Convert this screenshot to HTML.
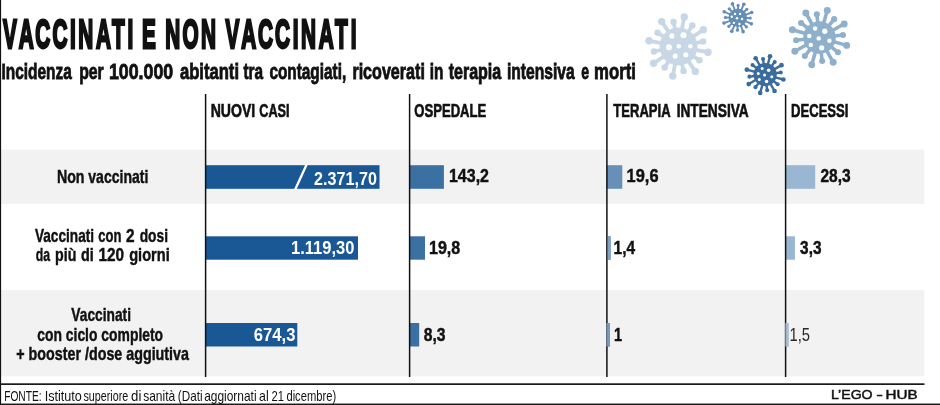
<!DOCTYPE html>
<html lang="it">
<head>
<meta charset="utf-8">
<title>Vaccinati e non vaccinati</title>
<style>
html,body{margin:0;padding:0;background:#fff;}
body{width:940px;height:405px;overflow:hidden;}
svg{display:block;will-change:transform;font-family:"Liberation Sans",sans-serif;}
</style>
</head>
<body>
<svg width="940" height="405" viewBox="0 0 940 405">
<rect x="0" y="0" width="940" height="405" fill="#ffffff"/>
<rect x="1" y="149.6" width="923.3" height="54.5" fill="#f2f2f2"/>
<rect x="1" y="290.0" width="923.3" height="86.3" fill="#f2f2f2"/>
<rect x="0" y="0" width="1.1" height="405" fill="#111"/>
<rect x="0" y="383.3" width="924.5" height="1.7" fill="#1a1a1a"/>
<rect x="0" y="403.55" width="940" height="1.45" fill="#1a1a1a"/>
<rect x="205.4" y="165.2" width="174.1" height="23.6" fill="#195895"/>
<rect x="409.4" y="165.2" width="34.5" height="23.6" fill="#3b70a3"/>
<rect x="606.7" y="165.2" width="15.6" height="23.6" fill="#6690b8"/>
<rect x="785.4" y="165.2" width="29.8" height="23.6" fill="#99b6d2"/>
<rect x="205.4" y="236.3" width="152.6" height="23.4" fill="#195895"/>
<rect x="409.4" y="236.3" width="15.6" height="23.4" fill="#3b70a3"/>
<rect x="606.7" y="236.3" width="3.9" height="23.4" fill="#6690b8"/>
<rect x="785.4" y="236.3" width="9.5" height="23.4" fill="#99b6d2"/>
<rect x="205.4" y="323.0" width="91.9" height="23.5" fill="#195895"/>
<rect x="409.4" y="323.0" width="9.8" height="23.5" fill="#3b70a3"/>
<rect x="606.7" y="323.0" width="3.3" height="23.5" fill="#6690b8"/>
<rect x="785.4" y="323.0" width="3.1" height="23.5" fill="#99b6d2"/>
<rect x="204.85" y="94" width="1.5" height="283" fill="#111"/>
<rect x="408.85" y="94" width="1.5" height="283" fill="#111"/>
<rect x="606.15" y="94" width="1.5" height="283" fill="#111"/>
<rect x="784.85" y="94" width="1.5" height="283" fill="#111"/>
<rect x="606.3" y="323.0" width="3.7" height="23.5" fill="#7b9bbb" opacity="0.9"/>
<rect x="607.5" y="236.3" width="3.2" height="23.4" fill="#80a1c1"/>
<rect x="785.3" y="323.0" width="3.2" height="23.5" fill="#a9bccf" opacity="0.9"/>
<line x1="295.2" y1="189.4" x2="306.5" y2="164.8" stroke="#fff" stroke-width="2.3"/>
<g fill="#c8d7e6" stroke="#c8d7e6" stroke-linecap="round">
<circle cx="678.50" cy="46.50" r="18.97" stroke="none"/>
<line x1="692.66" y1="36.95" x2="703.40" y2="29.71" stroke-width="3.80"/>
<circle cx="703.40" cy="29.71" r="3.70" stroke="none"/>
<line x1="687.93" y1="32.26" x2="692.34" y2="25.59" stroke-width="3.80"/>
<circle cx="692.34" cy="25.59" r="3.23" stroke="none"/>
<line x1="681.76" y1="29.74" x2="684.23" y2="17.02" stroke-width="3.80"/>
<circle cx="684.23" cy="17.02" r="3.70" stroke="none"/>
<line x1="675.10" y1="29.77" x2="673.50" y2="21.92" stroke-width="3.80"/>
<circle cx="673.50" cy="21.92" r="3.23" stroke="none"/>
<line x1="668.95" y1="32.34" x2="661.71" y2="21.60" stroke-width="3.80"/>
<circle cx="661.71" cy="21.60" r="3.70" stroke="none"/>
<line x1="664.26" y1="37.07" x2="657.59" y2="32.66" stroke-width="3.80"/>
<circle cx="657.59" cy="32.66" r="3.23" stroke="none"/>
<line x1="661.74" y1="43.24" x2="649.02" y2="40.77" stroke-width="3.80"/>
<circle cx="649.02" cy="40.77" r="3.70" stroke="none"/>
<line x1="661.77" y1="49.90" x2="653.92" y2="51.50" stroke-width="3.80"/>
<circle cx="653.92" cy="51.50" r="3.23" stroke="none"/>
<line x1="664.34" y1="56.05" x2="653.60" y2="63.29" stroke-width="3.80"/>
<circle cx="653.60" cy="63.29" r="3.70" stroke="none"/>
<line x1="669.07" y1="60.74" x2="664.66" y2="67.41" stroke-width="3.80"/>
<circle cx="664.66" cy="67.41" r="3.23" stroke="none"/>
<line x1="675.24" y1="63.26" x2="672.77" y2="75.98" stroke-width="3.80"/>
<circle cx="672.77" cy="75.98" r="3.70" stroke="none"/>
<line x1="681.90" y1="63.23" x2="683.50" y2="71.08" stroke-width="3.80"/>
<circle cx="683.50" cy="71.08" r="3.23" stroke="none"/>
<line x1="688.05" y1="60.66" x2="695.29" y2="71.40" stroke-width="3.80"/>
<circle cx="695.29" cy="71.40" r="3.70" stroke="none"/>
<line x1="692.74" y1="55.93" x2="699.41" y2="60.34" stroke-width="3.80"/>
<circle cx="699.41" cy="60.34" r="3.23" stroke="none"/>
<line x1="695.26" y1="49.76" x2="707.98" y2="52.23" stroke-width="3.80"/>
<circle cx="707.98" cy="52.23" r="3.70" stroke="none"/>
<line x1="695.23" y1="43.10" x2="703.08" y2="41.50" stroke-width="3.80"/>
<circle cx="703.08" cy="41.50" r="3.23" stroke="none"/>
</g>
<g fill="#ffffff">
<circle cx="671.90" cy="35.94" r="2.57"/>
<circle cx="683.45" cy="35.28" r="2.97"/>
<circle cx="668.93" cy="47.16" r="2.97"/>
<circle cx="678.83" cy="46.17" r="2.24"/>
<circle cx="690.38" cy="46.17" r="2.24"/>
<circle cx="675.20" cy="56.07" r="2.57"/>
<circle cx="685.76" cy="54.75" r="2.57"/>
</g>
<g fill="#648eb5" stroke="#648eb5" stroke-linecap="round">
<circle cx="737.80" cy="17.80" r="9.29" stroke="none"/>
<line x1="745.61" y1="14.80" x2="751.65" y2="12.48" stroke-width="1.87"/>
<circle cx="751.65" cy="12.48" r="1.83" stroke="none"/>
<line x1="743.87" y1="12.04" x2="746.79" y2="9.27" stroke-width="1.87"/>
<circle cx="746.79" cy="9.27" r="1.60" stroke="none"/>
<line x1="741.20" y1="10.16" x2="743.83" y2="4.25" stroke-width="1.87"/>
<circle cx="743.83" cy="4.25" r="1.83" stroke="none"/>
<line x1="738.02" y1="9.44" x2="738.12" y2="5.42" stroke-width="1.87"/>
<circle cx="738.12" cy="5.42" r="1.60" stroke="none"/>
<line x1="734.80" y1="9.99" x2="732.48" y2="3.95" stroke-width="1.87"/>
<circle cx="732.48" cy="3.95" r="1.83" stroke="none"/>
<line x1="732.04" y1="11.73" x2="729.27" y2="8.81" stroke-width="1.87"/>
<circle cx="729.27" cy="8.81" r="1.60" stroke="none"/>
<line x1="730.16" y1="14.40" x2="724.25" y2="11.77" stroke-width="1.87"/>
<circle cx="724.25" cy="11.77" r="1.83" stroke="none"/>
<line x1="729.44" y1="17.58" x2="725.42" y2="17.48" stroke-width="1.87"/>
<circle cx="725.42" cy="17.48" r="1.60" stroke="none"/>
<line x1="729.99" y1="20.80" x2="723.95" y2="23.12" stroke-width="1.87"/>
<circle cx="723.95" cy="23.12" r="1.83" stroke="none"/>
<line x1="731.73" y1="23.56" x2="728.81" y2="26.33" stroke-width="1.87"/>
<circle cx="728.81" cy="26.33" r="1.60" stroke="none"/>
<line x1="734.40" y1="25.44" x2="731.77" y2="31.35" stroke-width="1.87"/>
<circle cx="731.77" cy="31.35" r="1.83" stroke="none"/>
<line x1="737.58" y1="26.16" x2="737.48" y2="30.18" stroke-width="1.87"/>
<circle cx="737.48" cy="30.18" r="1.60" stroke="none"/>
<line x1="740.80" y1="25.61" x2="743.12" y2="31.65" stroke-width="1.87"/>
<circle cx="743.12" cy="31.65" r="1.83" stroke="none"/>
<line x1="743.56" y1="23.87" x2="746.33" y2="26.79" stroke-width="1.87"/>
<circle cx="746.33" cy="26.79" r="1.60" stroke="none"/>
<line x1="745.44" y1="21.20" x2="751.35" y2="23.83" stroke-width="1.87"/>
<circle cx="751.35" cy="23.83" r="1.83" stroke="none"/>
<line x1="746.16" y1="18.02" x2="750.18" y2="18.12" stroke-width="1.87"/>
<circle cx="750.18" cy="18.12" r="1.60" stroke="none"/>
</g>
<g fill="#ffffff">
<circle cx="735.03" cy="13.89" r="1.22"/>
<circle cx="740.08" cy="13.89" r="1.22"/>
<circle cx="731.77" cy="16.82" r="1.22"/>
<circle cx="736.98" cy="18.29" r="1.22"/>
<circle cx="742.04" cy="18.94" r="1.22"/>
<circle cx="733.89" cy="22.85" r="1.22"/>
<circle cx="739.43" cy="23.99" r="1.22"/>
</g>
<g fill="#3a6c9d" stroke="#3a6c9d" stroke-linecap="round">
<circle cx="765.10" cy="74.60" r="11.65" stroke="none"/>
<line x1="774.18" y1="69.36" x2="781.49" y2="65.14" stroke-width="2.39"/>
<circle cx="781.49" cy="65.14" r="2.33" stroke="none"/>
<line x1="771.48" y1="66.28" x2="774.72" y2="62.06" stroke-width="2.39"/>
<circle cx="774.72" cy="62.06" r="2.04" stroke="none"/>
<line x1="767.81" y1="64.47" x2="770.00" y2="56.32" stroke-width="2.39"/>
<circle cx="770.00" cy="56.32" r="2.33" stroke="none"/>
<line x1="763.73" y1="64.21" x2="763.04" y2="58.93" stroke-width="2.39"/>
<circle cx="763.04" cy="58.93" r="2.04" stroke="none"/>
<line x1="759.86" y1="65.52" x2="755.64" y2="58.21" stroke-width="2.39"/>
<circle cx="755.64" cy="58.21" r="2.33" stroke="none"/>
<line x1="756.78" y1="68.22" x2="752.56" y2="64.98" stroke-width="2.39"/>
<circle cx="752.56" cy="64.98" r="2.04" stroke="none"/>
<line x1="754.97" y1="71.89" x2="746.82" y2="69.70" stroke-width="2.39"/>
<circle cx="746.82" cy="69.70" r="2.33" stroke="none"/>
<line x1="754.71" y1="75.97" x2="749.43" y2="76.66" stroke-width="2.39"/>
<circle cx="749.43" cy="76.66" r="2.04" stroke="none"/>
<line x1="756.02" y1="79.84" x2="748.71" y2="84.06" stroke-width="2.39"/>
<circle cx="748.71" cy="84.06" r="2.33" stroke="none"/>
<line x1="758.72" y1="82.92" x2="755.48" y2="87.14" stroke-width="2.39"/>
<circle cx="755.48" cy="87.14" r="2.04" stroke="none"/>
<line x1="762.39" y1="84.73" x2="760.20" y2="92.88" stroke-width="2.39"/>
<circle cx="760.20" cy="92.88" r="2.33" stroke="none"/>
<line x1="766.47" y1="84.99" x2="767.16" y2="90.27" stroke-width="2.39"/>
<circle cx="767.16" cy="90.27" r="2.04" stroke="none"/>
<line x1="770.34" y1="83.68" x2="774.56" y2="90.99" stroke-width="2.39"/>
<circle cx="774.56" cy="90.99" r="2.33" stroke="none"/>
<line x1="773.42" y1="80.98" x2="777.64" y2="84.22" stroke-width="2.39"/>
<circle cx="777.64" cy="84.22" r="2.04" stroke="none"/>
<line x1="775.23" y1="77.31" x2="783.38" y2="79.50" stroke-width="2.39"/>
<circle cx="783.38" cy="79.50" r="2.33" stroke="none"/>
<line x1="775.49" y1="73.23" x2="780.77" y2="72.54" stroke-width="2.39"/>
<circle cx="780.77" cy="72.54" r="2.04" stroke="none"/>
</g>
<g fill="#ffffff">
<circle cx="762.19" cy="68.46" r="1.50"/>
<circle cx="768.64" cy="70.34" r="1.77"/>
<circle cx="758.24" cy="73.56" r="1.50"/>
<circle cx="764.58" cy="75.12" r="1.50"/>
<circle cx="771.76" cy="76.68" r="1.50"/>
<circle cx="759.28" cy="79.49" r="1.50"/>
<circle cx="766.56" cy="81.46" r="1.77"/>
</g>
<g fill="#8fb0cd" stroke="#8fb0cd" stroke-linecap="round">
<circle cx="819.50" cy="37.60" r="16.28" stroke="none"/>
<line x1="832.31" y1="30.50" x2="844.17" y2="23.92" stroke-width="3.56"/>
<circle cx="844.17" cy="23.92" r="3.47" stroke="none"/>
<line x1="828.62" y1="26.14" x2="834.17" y2="19.16" stroke-width="3.56"/>
<circle cx="834.17" cy="19.16" r="3.04" stroke="none"/>
<line x1="823.54" y1="23.52" x2="827.28" y2="10.48" stroke-width="3.56"/>
<circle cx="827.28" cy="10.48" r="3.47" stroke="none"/>
<line x1="817.84" y1="23.05" x2="816.83" y2="14.19" stroke-width="3.56"/>
<circle cx="816.83" cy="14.19" r="3.04" stroke="none"/>
<line x1="812.40" y1="24.79" x2="805.82" y2="12.93" stroke-width="3.56"/>
<circle cx="805.82" cy="12.93" r="3.47" stroke="none"/>
<line x1="808.04" y1="28.48" x2="801.06" y2="22.93" stroke-width="3.56"/>
<circle cx="801.06" cy="22.93" r="3.04" stroke="none"/>
<line x1="805.42" y1="33.56" x2="792.38" y2="29.82" stroke-width="3.56"/>
<circle cx="792.38" cy="29.82" r="3.47" stroke="none"/>
<line x1="804.95" y1="39.26" x2="796.09" y2="40.27" stroke-width="3.56"/>
<circle cx="796.09" cy="40.27" r="3.04" stroke="none"/>
<line x1="806.69" y1="44.70" x2="794.83" y2="51.28" stroke-width="3.56"/>
<circle cx="794.83" cy="51.28" r="3.47" stroke="none"/>
<line x1="810.38" y1="49.06" x2="804.83" y2="56.04" stroke-width="3.56"/>
<circle cx="804.83" cy="56.04" r="3.04" stroke="none"/>
<line x1="815.46" y1="51.68" x2="811.72" y2="64.72" stroke-width="3.56"/>
<circle cx="811.72" cy="64.72" r="3.47" stroke="none"/>
<line x1="821.16" y1="52.15" x2="822.17" y2="61.01" stroke-width="3.56"/>
<circle cx="822.17" cy="61.01" r="3.04" stroke="none"/>
<line x1="826.60" y1="50.41" x2="833.18" y2="62.27" stroke-width="3.56"/>
<circle cx="833.18" cy="62.27" r="3.47" stroke="none"/>
<line x1="830.96" y1="46.72" x2="837.94" y2="52.27" stroke-width="3.56"/>
<circle cx="837.94" cy="52.27" r="3.04" stroke="none"/>
<line x1="833.58" y1="41.64" x2="846.62" y2="45.38" stroke-width="3.56"/>
<circle cx="846.62" cy="45.38" r="3.47" stroke="none"/>
<line x1="834.05" y1="35.94" x2="842.91" y2="34.93" stroke-width="3.56"/>
<circle cx="842.91" cy="34.93" r="3.04" stroke="none"/>
</g>
<g fill="#ffffff">
<circle cx="815.16" cy="28.46" r="2.23"/>
<circle cx="824.77" cy="31.25" r="2.64"/>
<circle cx="809.27" cy="36.05" r="2.23"/>
<circle cx="818.73" cy="38.38" r="2.23"/>
<circle cx="829.42" cy="40.70" r="2.23"/>
<circle cx="810.82" cy="44.88" r="2.23"/>
<circle cx="821.67" cy="47.83" r="2.64"/>
</g>
<text transform="translate(0,48) scale(0.52,1)" x="5.7 36.0 67.9 101.1 134.4 150.6 184.7 215.4 245.4 257.7 273.0 301.9 317.8 350.8 386.4 417.3 433.6 463.8 496.2 528.9 562.9 579.0 613.1 644.2 674.6" y="0" font-size="39.9" font-weight="bold" fill="#111111" stroke="#111111" stroke-width="2.2" vector-effect="non-scaling-stroke">VACCINATI E NON VACCINATI</text>
<text x="1.52" y="78.70" font-size="21.3" font-weight="bold" fill="#111111" stroke="#111111" stroke-width="0.8" textLength="70.19" lengthAdjust="spacingAndGlyphs">Incidenza</text>
<text x="79.13" y="78.70" font-size="21.3" font-weight="bold" fill="#111111" stroke="#111111" stroke-width="0.8" textLength="24.57" lengthAdjust="spacingAndGlyphs">per</text>
<text x="108.91" y="78.70" font-size="21.3" font-weight="bold" fill="#111111" stroke="#111111" stroke-width="0.8" textLength="64.36" lengthAdjust="spacingAndGlyphs">100.000</text>
<text x="179.89" y="78.70" font-size="21.3" font-weight="bold" fill="#111111" stroke="#111111" stroke-width="0.8" textLength="59.15" lengthAdjust="spacingAndGlyphs">abitanti</text>
<text x="243.51" y="78.70" font-size="21.3" font-weight="bold" fill="#111111" stroke="#111111" stroke-width="0.8" textLength="19.63" lengthAdjust="spacingAndGlyphs">tra</text>
<text x="269.40" y="78.70" font-size="21.3" font-weight="bold" fill="#111111" stroke="#111111" stroke-width="0.8" textLength="76.77" lengthAdjust="spacingAndGlyphs">contagiati,</text>
<text x="352.38" y="78.70" font-size="21.3" font-weight="bold" fill="#111111" stroke="#111111" stroke-width="0.8" textLength="72.48" lengthAdjust="spacingAndGlyphs">ricoverati</text>
<text x="429.70" y="78.70" font-size="21.3" font-weight="bold" fill="#111111" stroke="#111111" stroke-width="0.8" textLength="13.64" lengthAdjust="spacingAndGlyphs">in</text>
<text x="448.65" y="78.70" font-size="21.3" font-weight="bold" fill="#111111" stroke="#111111" stroke-width="0.8" textLength="52.60" lengthAdjust="spacingAndGlyphs">terapia</text>
<text x="506.98" y="78.70" font-size="21.3" font-weight="bold" fill="#111111" stroke="#111111" stroke-width="0.8" textLength="67.73" lengthAdjust="spacingAndGlyphs">intensiva</text>
<text x="581.17" y="78.70" font-size="21.3" font-weight="bold" fill="#111111" stroke="#111111" stroke-width="0.8" textLength="7.84" lengthAdjust="spacingAndGlyphs">e</text>
<text x="594.09" y="78.70" font-size="21.3" font-weight="bold" fill="#111111" stroke="#111111" stroke-width="0.8" textLength="41.83" lengthAdjust="spacingAndGlyphs">morti</text>
<text x="210.72" y="117.00" font-size="17.6" font-weight="bold" fill="#111111" stroke="#111111" stroke-width="0.6" textLength="44.46" lengthAdjust="spacingAndGlyphs">NUOVI</text>
<text x="259.24" y="117.00" font-size="17.6" font-weight="bold" fill="#111111" stroke="#111111" stroke-width="0.6" textLength="30.36" lengthAdjust="spacingAndGlyphs">CASI</text>
<text x="414.24" y="117.00" font-size="17.6" font-weight="bold" fill="#111111" stroke="#111111" stroke-width="0.6" textLength="72.05" lengthAdjust="spacingAndGlyphs">OSPEDALE</text>
<text x="613.37" y="117.00" font-size="17.6" font-weight="bold" fill="#111111" stroke="#111111" stroke-width="0.6" textLength="57.25" lengthAdjust="spacingAndGlyphs">TERAPIA</text>
<text x="676.66" y="117.00" font-size="17.6" font-weight="bold" fill="#111111" stroke="#111111" stroke-width="0.6" textLength="72.09" lengthAdjust="spacingAndGlyphs">INTENSIVA</text>
<text x="791.04" y="117.00" font-size="17.6" font-weight="bold" fill="#111111" stroke="#111111" stroke-width="0.6" textLength="57.42" lengthAdjust="spacingAndGlyphs">DECESSI</text>
<text x="56.94" y="182.50" font-size="18.6" font-weight="bold" fill="#111111" stroke="#111111" stroke-width="0.45" textLength="27.62" lengthAdjust="spacingAndGlyphs">Non</text>
<text x="88.29" y="182.50" font-size="18.6" font-weight="bold" fill="#111111" stroke="#111111" stroke-width="0.45" textLength="60.09" lengthAdjust="spacingAndGlyphs">vaccinati</text>
<text x="34.93" y="241.50" font-size="18.6" font-weight="bold" fill="#111111" stroke="#111111" stroke-width="0.45" textLength="59.13" lengthAdjust="spacingAndGlyphs">Vaccinati</text>
<text x="98.18" y="241.50" font-size="18.6" font-weight="bold" fill="#111111" stroke="#111111" stroke-width="0.45" textLength="23.22" lengthAdjust="spacingAndGlyphs">con</text>
<text x="126.09" y="241.50" font-size="18.6" font-weight="bold" fill="#111111" stroke="#111111" stroke-width="0.45" textLength="8.61" lengthAdjust="spacingAndGlyphs">2</text>
<text x="139.70" y="241.50" font-size="18.6" font-weight="bold" fill="#111111" stroke="#111111" stroke-width="0.45" textLength="28.34" lengthAdjust="spacingAndGlyphs">dosi</text>
<text x="35.84" y="260.50" font-size="18.6" font-weight="bold" fill="#111111" stroke="#111111" stroke-width="0.45" textLength="14.30" lengthAdjust="spacingAndGlyphs">da</text>
<text x="55.09" y="260.50" font-size="18.6" font-weight="bold" fill="#111111" stroke="#111111" stroke-width="0.45" textLength="21.31" lengthAdjust="spacingAndGlyphs">più</text>
<text x="80.89" y="260.50" font-size="18.6" font-weight="bold" fill="#111111" stroke="#111111" stroke-width="0.45" textLength="12.80" lengthAdjust="spacingAndGlyphs">di</text>
<text x="98.49" y="260.50" font-size="18.6" font-weight="bold" fill="#111111" stroke="#111111" stroke-width="0.45" textLength="25.62" lengthAdjust="spacingAndGlyphs">120</text>
<text x="129.16" y="260.50" font-size="18.6" font-weight="bold" fill="#111111" stroke="#111111" stroke-width="0.45" textLength="40.55" lengthAdjust="spacingAndGlyphs">giorni</text>
<text x="71.37" y="320.90" font-size="18.6" font-weight="bold" fill="#111111" stroke="#111111" stroke-width="0.45" textLength="59.62" lengthAdjust="spacingAndGlyphs">Vaccinati</text>
<text x="37.24" y="340.60" font-size="18.6" font-weight="bold" fill="#111111" stroke="#111111" stroke-width="0.45" textLength="125.87" lengthAdjust="spacingAndGlyphs">con ciclo completo</text>
<text x="16.28" y="360.30" font-size="18.6" font-weight="bold" fill="#111111" stroke="#111111" stroke-width="0.45" textLength="172.70" lengthAdjust="spacingAndGlyphs">+ booster /dose aggiutiva</text>
<text x="314.11" y="184.60" font-size="18.6" font-weight="bold" fill="#ffffff" textLength="62.79" lengthAdjust="spacingAndGlyphs">2.371,70</text>
<text x="291.02" y="253.90" font-size="18.6" font-weight="bold" fill="#ffffff" textLength="63.38" lengthAdjust="spacingAndGlyphs">1.119,30</text>
<text x="253.83" y="340.60" font-size="18.6" font-weight="bold" fill="#ffffff" textLength="41.65" lengthAdjust="spacingAndGlyphs">674,3</text>
<text x="448.96" y="182.30" font-size="18.6" font-weight="bold" fill="#111111" stroke="#111111" stroke-width="0.45" textLength="40.01" lengthAdjust="spacingAndGlyphs">143,2</text>
<text x="626.61" y="182.30" font-size="18.6" font-weight="bold" fill="#111111" stroke="#111111" stroke-width="0.45" textLength="31.90" lengthAdjust="spacingAndGlyphs">19,6</text>
<text x="820.40" y="182.30" font-size="18.6" font-weight="bold" fill="#111111" stroke="#111111" stroke-width="0.45" textLength="30.18" lengthAdjust="spacingAndGlyphs">28,3</text>
<text x="428.96" y="253.90" font-size="18.6" font-weight="bold" fill="#111111" stroke="#111111" stroke-width="0.45" textLength="31.27" lengthAdjust="spacingAndGlyphs">19,8</text>
<text x="613.58" y="253.90" font-size="18.6" font-weight="bold" fill="#111111" stroke="#111111" stroke-width="0.45" textLength="21.60" lengthAdjust="spacingAndGlyphs">1,4</text>
<text x="800.11" y="253.90" font-size="18.6" font-weight="bold" fill="#111111" stroke="#111111" stroke-width="0.45" textLength="21.37" lengthAdjust="spacingAndGlyphs">3,3</text>
<text x="423.68" y="341.10" font-size="18.6" font-weight="bold" fill="#111111" stroke="#111111" stroke-width="0.45" textLength="21.83" lengthAdjust="spacingAndGlyphs">8,3</text>
<text x="613.96" y="341.10" font-size="18.6" font-weight="bold" fill="#111111" stroke="#111111" stroke-width="0.45" textLength="8.05" lengthAdjust="spacingAndGlyphs">1</text>
<text x="789.53" y="341.10" font-size="18.6" font-weight="normal" fill="#2a2a2a" textLength="20.57" lengthAdjust="spacingAndGlyphs">1,5</text>
<text x="4.15" y="400.60" font-size="14.5" font-weight="normal" fill="#111111" textLength="37.46" lengthAdjust="spacingAndGlyphs">FONTE:</text>
<text x="44.64" y="400.60" font-size="14.5" font-weight="normal" fill="#111111" textLength="37.17" lengthAdjust="spacingAndGlyphs">Istituto</text>
<text x="83.45" y="400.60" font-size="14.5" font-weight="normal" fill="#111111" textLength="44.82" lengthAdjust="spacingAndGlyphs">superiore</text>
<text x="131.06" y="400.60" font-size="14.5" font-weight="normal" fill="#111111" textLength="10.27" lengthAdjust="spacingAndGlyphs">di</text>
<text x="143.14" y="400.60" font-size="14.5" font-weight="normal" fill="#111111" textLength="32.03" lengthAdjust="spacingAndGlyphs">sanità</text>
<text x="177.87" y="400.60" font-size="14.5" font-weight="normal" fill="#111111" textLength="24.70" lengthAdjust="spacingAndGlyphs">(Dati</text>
<text x="204.16" y="400.60" font-size="14.5" font-weight="normal" fill="#111111" textLength="52.42" lengthAdjust="spacingAndGlyphs">aggiornati</text>
<text x="259.02" y="400.60" font-size="14.5" font-weight="normal" fill="#111111" textLength="9.63" lengthAdjust="spacingAndGlyphs">al</text>
<text x="271.58" y="400.60" font-size="14.5" font-weight="normal" fill="#111111" textLength="12.44" lengthAdjust="spacingAndGlyphs">21</text>
<text x="286.42" y="400.60" font-size="14.5" font-weight="normal" fill="#111111" textLength="49.72" lengthAdjust="spacingAndGlyphs">dicembre)</text>
<text x="831.04" y="399.30" font-size="13.6" font-weight="normal" fill="#111111" stroke="#111111" stroke-width="0.5" textLength="41.57" lengthAdjust="spacingAndGlyphs">L’EGO</text>
<text x="876.19" y="399.30" font-size="13.6" font-weight="normal" fill="#111111" stroke="#111111" stroke-width="0.5" textLength="6.70" lengthAdjust="spacingAndGlyphs">-</text>
<text x="885.57" y="399.30" font-size="13.6" font-weight="normal" fill="#111111" stroke="#111111" stroke-width="0.5" textLength="32.11" lengthAdjust="spacingAndGlyphs">HUB</text>
</svg>
</body>
</html>
